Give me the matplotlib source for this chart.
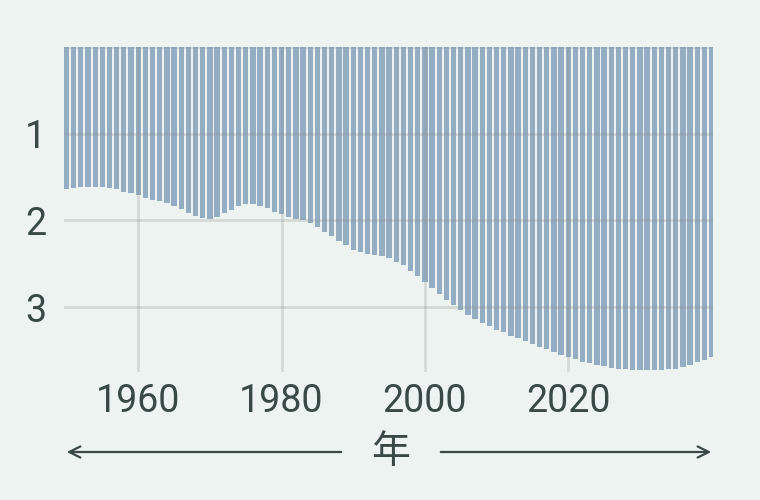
import matplotlib
matplotlib.use("Agg")
import matplotlib.pyplot as plt

years = list(range(1950, 2041))
values = [
    1.64, 1.63, 1.62, 1.61, 1.61, 1.61, 1.63, 1.64, 1.67, 1.69,
    1.71, 1.74, 1.76, 1.78, 1.80, 1.83, 1.87, 1.91, 1.95, 1.97,
    1.98, 1.96, 1.92, 1.88, 1.83, 1.81, 1.81, 1.83, 1.86, 1.90,
    1.93, 1.96, 1.98, 2.00, 2.03, 2.08, 2.13, 2.18, 2.24, 2.29,
    2.34, 2.37, 2.39, 2.40, 2.41, 2.44, 2.48, 2.52, 2.58, 2.64,
    2.71, 2.78, 2.85, 2.92, 2.98, 3.04, 3.09, 3.14, 3.18, 3.22,
    3.26, 3.29, 3.33, 3.36, 3.39, 3.43, 3.46, 3.49, 3.52, 3.55,
    3.58, 3.60, 3.63, 3.65, 3.67, 3.68, 3.70, 3.71, 3.72, 3.73,
    3.73, 3.73, 3.73, 3.73, 3.72, 3.71, 3.69, 3.67, 3.64, 3.61,
    3.58,
]
x_ticks = [1960, 1980, 2000, 2020]
y_ticks = [1, 2, 3]
x_title = "年"

bg = "#ecf3f1"
bar_color = "#95adc3"
text_color = "#3a4846"

fig = plt.figure(figsize=(7.6, 5), dpi=100, facecolor=bg)
ax = fig.add_axes([64 / 760, 1 - 372 / 500, 649 / 760, 325 / 500])
ax.set_facecolor(bg)

ax.bar(years, values, width=0.74, color=bar_color, zorder=1)

ax.set_xlim(1949.65, 2040.2)
ax.set_ylim(3.75, 0)
ax.set_xticks(x_ticks)
ax.set_yticks(y_ticks)
ax.set_xticklabels([str(t) for t in x_ticks])
ax.set_yticklabels([str(t) for t in y_ticks])

for t in x_ticks:
    ax.axvline(t, color="#8a8f8e", alpha=0.25, lw=2, zorder=2)
for t in [0] + y_ticks:
    ax.axhline(t, color="#8a8f8e", alpha=0.25, lw=2, zorder=2)

for s in ax.spines.values():
    s.set_visible(False)
ax.tick_params(length=0, labelsize=27, labelcolor=text_color)
ax.tick_params(axis="x", pad=8)
ax.tick_params(axis="y", pad=13)
for lab in ax.get_xticklabels() + ax.get_yticklabels():
    lab.set_family("Roboto")

# axis title with arrows on both sides
y_arrow = 1 - 452 / 500
fig.text(391 / 760, y_arrow, x_title, ha="center", va="center",
         fontsize=28, color=text_color, family=["Noto Sans CJK SC", "DejaVu Sans"])
arrow_kw = dict(arrowstyle="->", color=text_color, lw=1.6, mutation_scale=20)
fig.add_artist(matplotlib.patches.FancyArrowPatch(
    (344 / 760, y_arrow), (64 / 760, y_arrow), transform=fig.transFigure, **arrow_kw))
fig.add_artist(matplotlib.patches.FancyArrowPatch(
    (438 / 760, y_arrow), (714 / 760, y_arrow), transform=fig.transFigure, **arrow_kw))

fig.savefig("out.png", dpi=100, facecolor=bg)
plt.close(fig)
